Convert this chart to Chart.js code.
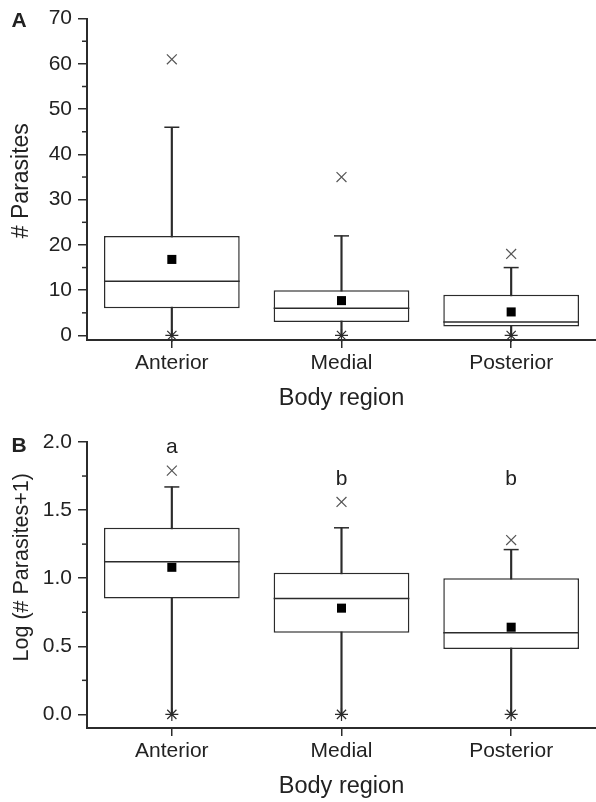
<!DOCTYPE html>
<html>
<head>
<meta charset="utf-8">
<script src="https://cdn.jsdelivr.net/npm/chart.js@4.4.0/dist/chart.umd.min.js"></script>
<style>
  body { margin: 0; background: #fff; }
  canvas { position: absolute; left: 0; }
  #chartA { top: 0; }
  #chartB { top: 414px; }
</style>
</head>
<body>
<canvas id="chartA" width="596" height="414"></canvas>
<canvas id="chartB" width="596" height="388"></canvas>
<script>
  const regions = ["Anterior", "Medial", "Posterior"];

  // Panel A: raw counts
  const rawQ1 = [6, 3, 2];
  const rawQ3 = [22, 10, 9];
  const rawMedian = [12, 6, 3];
  const rawMean = [16.8, 7.7, 5.2];
  const rawWhiskerLow = [0, 0, 0];
  const rawWhiskerHigh = [46, 22, 15];
  const rawOutlier = [61, 35, 18];
  const rawMin = [0, 0, 0];
  const rawTicks = [0, 10, 20, 30, 40, 50, 60, 70];
  const rawMinorTicks = [5, 15, 25, 35, 45, 55, 65];

  // Panel B: log(# parasites + 1)
  const logQ1 = [0.85, 0.60, 0.48];
  const logQ3 = [1.37, 1.04, 1.00];
  const logMedian = [1.12, 0.85, 0.60];
  const logMean = [1.08, 0.78, 0.64];
  const logWhiskerLow = [0, 0, 0];
  const logWhiskerHigh = [1.67, 1.37, 1.21];
  const logOutlier = [1.79, 1.56, 1.28];
  const logMin = [0, 0, 0];
  const logTicks = [0, 0.5, 1.0, 1.5, 2.0];
  const logMinorTicks = [0.25, 0.75, 1.25, 1.75];
  const groupLetters = ["a", "b", "b"];
  const groupLetterAt = [1.96, 1.73, 1.73];

  const ink = "#2b2b2b";
  const textColor = "#222";
  const family = "'Liberation Sans', Arial, sans-serif";

  // medians, minor ticks, panel letter, y title and group letters
  const boxExtras = {
    id: "boxExtras",
    afterDatasetsDraw(chart, args, opts) {
      const { ctx, chartArea } = chart;
      const x = chart.scales.x, y = chart.scales.y;
      const boxMeta = chart.getDatasetMeta(1);
      ctx.save();
      ctx.strokeStyle = ink;
      ctx.lineWidth = 1.5;
      opts.median.forEach((m, i) => {
        const bar = boxMeta.data[i];
        const py = y.getPixelForValue(m);
        ctx.beginPath();
        ctx.moveTo(bar.x - bar.width / 2, py);
        ctx.lineTo(bar.x + bar.width / 2, py);
        ctx.stroke();
      });
      opts.minor.forEach(v => {
        const py = y.getPixelForValue(v);
        ctx.beginPath();
        ctx.moveTo(chartArea.left - 5, py);
        ctx.lineTo(chartArea.left, py);
        ctx.stroke();
      });
      ctx.fillStyle = textColor;
      ctx.textAlign = "center";
      ctx.textBaseline = "middle";
      ctx.font = "21px " + family;
      (opts.letters || []).forEach((t, i) => {
        ctx.fillText(t, x.getPixelForValue(i), y.getPixelForValue(opts.letterAt[i]));
      });
      // panel letter
      ctx.font = "bold 21px " + family;
      ctx.fillText(opts.panel, 19, y.getPixelForValue(opts.panelAt));
      // y axis title
      ctx.font = opts.titleSize + "px " + family;
      ctx.translate(22, y.getPixelForValue(opts.titleAt));
      ctx.rotate(-Math.PI / 2);
      ctx.fillText(opts.title, 0, 0);
      ctx.restore();
    }
  };

  function makeChart(canvasId, d) {
    const ctx = document.getElementById(canvasId).getContext("2d");
    return new Chart(ctx, {
      type: "bar",
      data: {
        labels: regions,
        datasets: [
          {
            // whiskers
            data: regions.map((_, i) => [d.low[i], d.high[i]]),
            backgroundColor: ink,
            borderWidth: 0,
            barThickness: 1.5,
            grouped: false,
            order: 3
          },
          {
            // boxes
            data: regions.map((_, i) => [d.q1[i], d.q3[i]]),
            backgroundColor: "#fff",
            borderColor: ink,
            borderWidth: 1.5,
            borderSkipped: false,
            barPercentage: 0.8,
            categoryPercentage: 1,
            grouped: false,
            order: 2
          },
          {
            // whisker caps
            type: "line",
            data: d.high,
            showLine: false,
            pointStyle: "line",
            pointRadius: 7.5,
            pointBorderColor: ink,
            pointBorderWidth: 1.5,
            clip: false,
            order: 1
          },
          {
            // means
            type: "line",
            data: d.mean,
            showLine: false,
            pointStyle: "rect",
            pointRadius: 6.4,
            pointBackgroundColor: "#000",
            pointBorderWidth: 0,
            clip: false,
            order: 1
          },
          {
            // outliers
            type: "line",
            data: d.outlier,
            showLine: false,
            pointStyle: "crossRot",
            pointRadius: 7,
            pointBorderColor: "#555",
            pointBorderWidth: 1.2,
            clip: false,
            order: 1
          },
          {
            // minima
            type: "line",
            data: d.min,
            showLine: false,
            pointStyle: "star",
            pointRadius: 6.5,
            pointBorderColor: ink,
            pointBorderWidth: 1.2,
            clip: false,
            order: 1
          }
        ]
      },
      options: {
        responsive: false,
        animation: false,
        events: [],
        layout: { autoPadding: false, padding: { top: d.padTop, right: 0, bottom: 0, left: 0 } },
        scales: {
          x: {
            grid: { drawOnChartArea: false, drawTicks: true, tickLength: 8, color: ink, lineWidth: 1.5, offset: false },
            border: { display: true, color: ink, width: 2 },
            ticks: { color: textColor, font: { family: family, size: 21 }, padding: 3, maxRotation: 0, autoSkip: false },
            title: { display: true, text: "Body region", color: textColor, font: { family: family, size: 23.5 }, padding: { top: 0, bottom: 1 } },
            afterFit: scale => {
              scale.height = 74;
              scale.paddingLeft = 0;
              scale.paddingRight = 0;
            }
          },
          y: {
            min: d.yMin,
            max: d.yMax,
            grid: { drawOnChartArea: false, drawTicks: true, tickLength: 9, color: ink, lineWidth: 1.5 },
            border: { display: true, color: ink, width: 2 },
            ticks: {
              color: textColor,
              font: { family: family, size: 21 },
              padding: 6,
              callback: d.format
            },
            afterBuildTicks: scale => { scale.ticks = d.ticks.map(v => ({ value: v })); },
            afterFit: scale => { scale.width = 87; }
          }
        },
        plugins: {
          legend: { display: false },
          tooltip: { enabled: false },
          boxExtras: {
            median: d.median,
            minor: d.minor,
            letters: d.letters,
            letterAt: d.letterAt,
            panel: d.panel,
            panelAt: d.panelAt,
            title: d.title,
            titleAt: d.titleAt,
            titleSize: d.titleSize
          }
        }
      },
      plugins: [boxExtras]
    });
  }

  window.onload = function () {
    window.chartA = makeChart("chartA", {
      q1: rawQ1, q3: rawQ3, median: rawMedian, mean: rawMean,
      low: rawWhiskerLow, high: rawWhiskerHigh, outlier: rawOutlier, min: rawMin,
      ticks: rawTicks, minor: rawMinorTicks, yMin: -1, yMax: 70,
      format: v => String(v), padTop: 17,
      panel: "A", panelAt: 69.5, title: "# Parasites", titleAt: 34.2, titleSize: 23
    });
    window.chartB = makeChart("chartB", {
      q1: logQ1, q3: logQ3, median: logMedian, mean: logMean,
      low: logWhiskerLow, high: logWhiskerHigh, outlier: logOutlier, min: logMin,
      ticks: logTicks, minor: logMinorTicks, yMin: -0.1, yMax: 2.0,
      format: v => v.toFixed(1), padTop: 28,
      letters: groupLetters, letterAt: groupLetterAt,
      panel: "B", panelAt: 1.97, title: "Log (# Parasites+1)", titleAt: 1.08, titleSize: 21.5
    });
  };
</script>
</body>
</html>
